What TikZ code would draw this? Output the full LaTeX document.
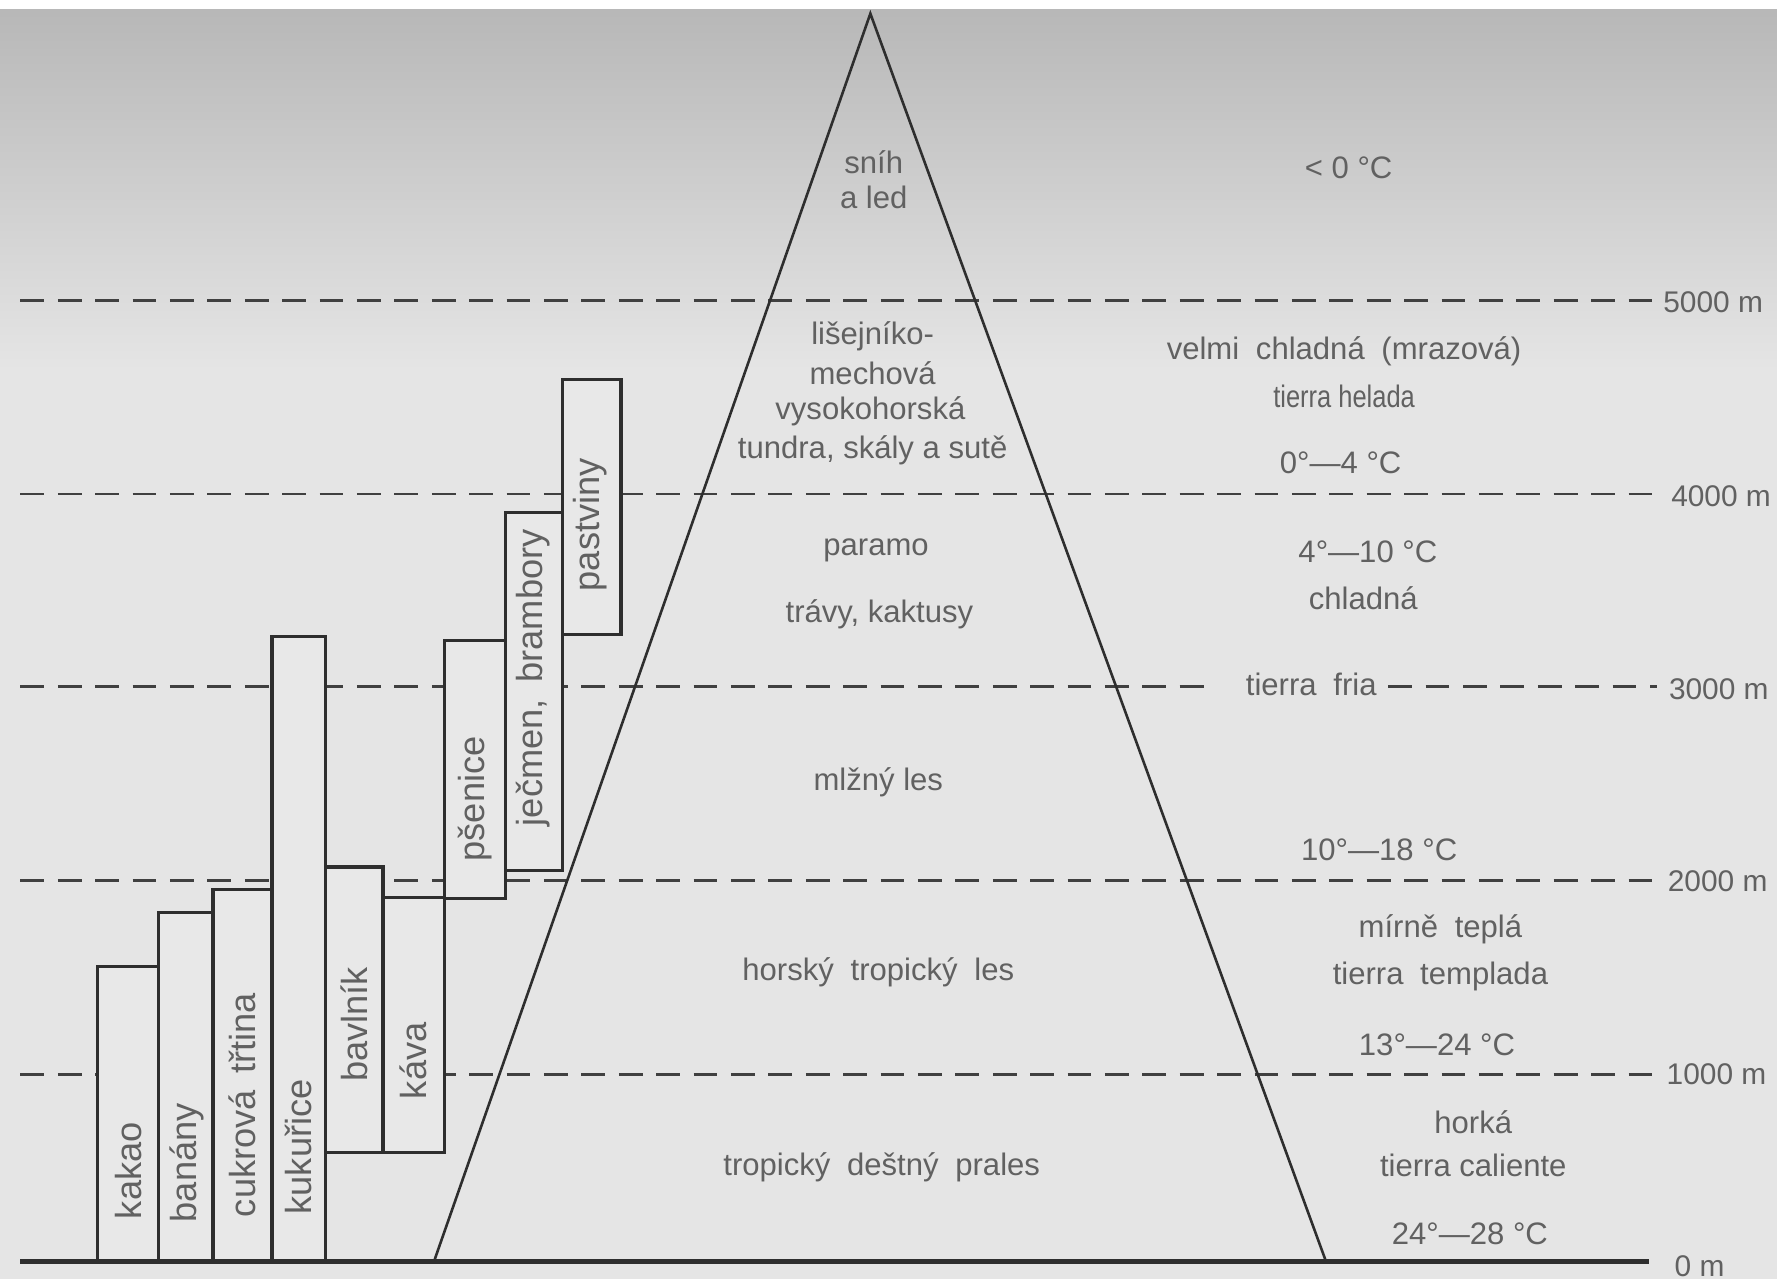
\documentclass[tikz,border=0pt]{standalone}
\usepackage{fontspec}
\setmainfont{Liberation Sans}
\begin{document}
\begin{tikzpicture}[x=0.1mm,y=-0.1mm,
  lbl/.style={text=black!62, inner sep=0pt, font=\fontsize{7.8}{9}\selectfont},
  wide/.style={execute at begin node={\spaceskip=4.2pt plus 1pt\relax}},
  crop/.style={lbl, rotate=90, font=\fontsize{9.1}{10}\selectfont},
  bar/.style={draw=black!82, line width=0.8pt, fill=black!9},
  level/.style={draw=black!75, line width=0.7pt, dash pattern=on 2.1mm off 1.2mm},
  peak/.style={draw=black!82, line width=0.65pt},
  ground/.style={draw=black!82, line width=1.1pt},
  alt/.style={lbl, anchor=west, font=\fontsize{7.5}{9}\selectfont}]
\useasboundingbox (0,0) rectangle (1568,1129);
% background
\fill[white] (0,0) rectangle (1568,1129);
\shade[top color=black!28, bottom color=black!10] (0,8) rectangle (1568,330);
\fill[black!10] (0,330) rectangle (1568,1129);

% altitude levels
\coordinate (l5a) at (18,265);  \coordinate (l5b) at (1462,265);
\coordinate (l4a) at (18,436);  \coordinate (l4b) at (1466,436);
\coordinate (l3a) at (18,606);  \coordinate (l3b) at (1072,606);
\coordinate (l3c) at (1225,606); \coordinate (l3d) at (1462,606);
\coordinate (l2a) at (18,777);  \coordinate (l2b) at (1462,777);
\coordinate (l1a) at (18,948);  \coordinate (l1b) at (1462,948);
\draw[level] (l5a) -- (l5b);
\draw[level] (l4a) -- (l4b);
\draw[level] (l3a) -- (l3b);
\draw[level] (l3c) -- (l3d);
\draw[level] (l2a) -- (l2b);
\draw[level] (l1a) -- (l1b);

% crop bars
\draw[bar] (86,1113) rectangle (140,853);
\draw[bar] (140,1113) rectangle (188,805);
\draw[bar] (188,1113) rectangle (240,785);
\draw[bar] (240,1113) rectangle (287,562);
\draw[bar] (287,1017) rectangle (338,765);
\draw[bar] (338,1017) rectangle (392,792);
\draw[bar] (392,793) rectangle (446,565);
\draw[bar] (446,768) rectangle (496,452);
\draw[bar] (496,560) rectangle (548,335);

% mountain
\coordinate (apex) at (768,12);
\coordinate (pl) at (383,1113);
\coordinate (pr) at (1170,1113);
\draw[peak] (pl) -- (apex) -- (pr);

% ground
\coordinate (g0) at (18,1113);
\coordinate (g1) at (1455,1113);
\draw[ground] (g0) -- (g1);

% crop labels
\node[crop] (kakao) at (113,1033) {kakao};
\node[crop] (banany) at (165,1026) {banány};
\node[crop, wide] (cukr) at (214,975) {cukrová třtina};
\node[crop] (kuk) at (263,1012) {kukuřice};
\node[crop] (bavl) at (313,904) {bavlník};
\node[crop] (kava) at (365,936) {káva};
\node[crop] (psen) at (419,705) {pšenice};
\node[crop, wide] (jec) at (470,598) {ječmen, brambory};
\node[crop] (past) at (521,463) {pastviny};

% vegetation zones
\node[lbl] (z1a) at (771,143) {sníh};
\node[lbl] (z1b) at (771,174) {a led};
\node[lbl] (z2a) at (770,297) {lišejníko-};
\node[lbl] (z2b) at (770,329) {mechová};
\node[lbl] (z2c) at (768,363) {vysokohorská};
\node[lbl] (z2d) at (770,397) {tundra, skály a sutě};
\node[lbl] (z3a) at (773,486) {paramo};
\node[lbl] (z3b) at (776,542) {trávy, kaktusy};
\node[lbl] (z4) at (775,690) {mlžný les};
\node[lbl, wide] (z5) at (775,858) {horský tropický les};
\node[lbl, wide] (z6) at (778,1030) {tropický deštný prales};

% climate zones
\node[lbl] (c1) at (1190,148) {< 0 °C};
\node[lbl, wide] (c2a) at (1186,310) {velmi chladná (mrazová)};
\node[lbl, xscale=0.82] (c2b) at (1186,350) {tierra helada};
\node[lbl] (c2c) at (1183,408) {0°—4 °C};
\node[lbl] (c3a) at (1207,487) {4°—10 °C};
\node[lbl] (c3b) at (1203,528) {chladná};
\node[lbl, wide] (c3c) at (1157,604) {tierra fria};
\node[lbl] (c4) at (1217,750) {10°—18 °C};
\node[lbl, wide] (c5a) at (1271,820) {mírně teplá};
\node[lbl, wide] (c5b) at (1271,862) {tierra templada};
\node[lbl] (c5c) at (1268,922) {13°—24 °C};
\node[lbl] (c6a) at (1300,990) {horká};
\node[lbl] (c6b) at (1300,1028) {tierra caliente};
\node[lbl] (c6c) at (1297,1089) {24°—28 °C};

% altitude labels
\node[alt] (a5) at (1467,267) {5000 m};
\node[alt] (a4) at (1474,438) {4000 m};
\node[alt] (a3) at (1472,608) {3000 m};
\node[alt] (a2) at (1471,778) {2000 m};
\node[alt] (a1) at (1470,948) {1000 m};
\node[alt] (a0) at (1477,1117) {0 m};
\end{tikzpicture}
\end{document}
